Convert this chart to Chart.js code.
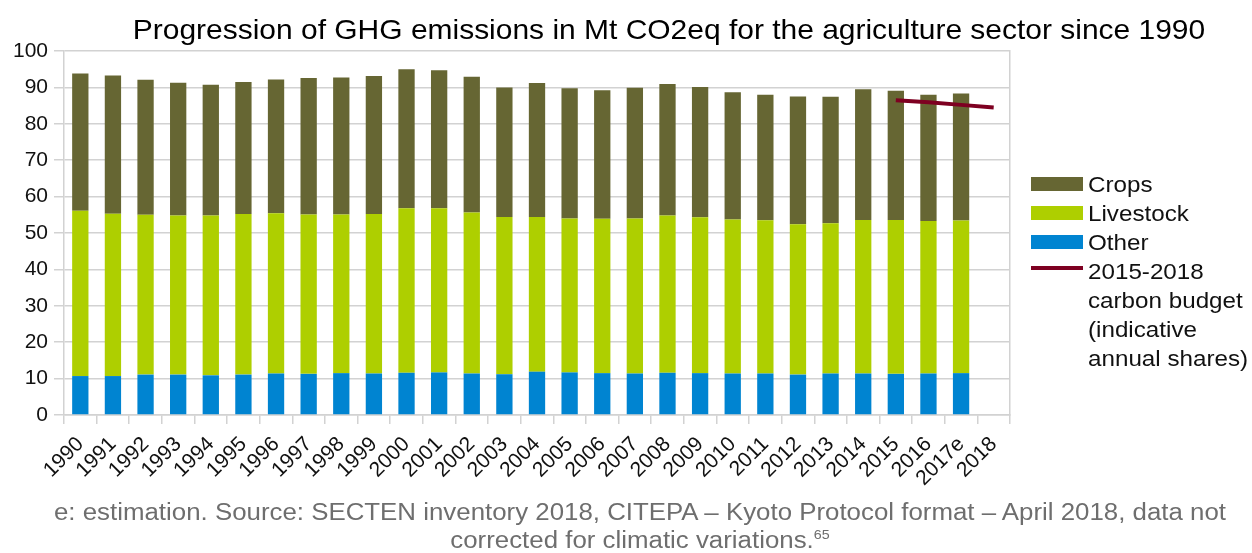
<!DOCTYPE html>
<html>
<head>
<meta charset="utf-8">
<script src="https://cdn.jsdelivr.net/npm/chart.js@4/dist/chart.umd.min.js"></script>
<style>
    html, body { margin: 0; padding: 0; background: #fff; }
    #wrap { position: relative; width: 1252px; height: 553px; font-family: "Liberation Sans", Arial, sans-serif; overflow: hidden; }
    #chart { position: absolute; left: 0; top: 0; }
    .title { position: absolute; left: 69px; width: 1200px; top: 16px; text-align: center; font-size: 28px; line-height: 28px; color: #000; white-space: nowrap; transform: scaleX(1.07); transform-origin: 600px 0; }
    .legend { position: absolute; left: 1031px; top: 170px; font-size: 22px; line-height: 29px; color: #111; }
    .legend .row { position: relative; height: 29px; }
    .legend .key { position: absolute; left: 0; width: 52px; }
    .legend .txt { position: absolute; left: 57px; white-space: nowrap; transform: scaleX(1.1); transform-origin: 0 0; }
    .note { position: absolute; left: 0; width: 1280px; top: 499px; text-align: center; font-size: 23.5px; line-height: 27.5px; color: #6e6e6e; transform: scaleX(1.1); transform-origin: 640px 0; }
    .note sup { font-size: 13px; vertical-align: 9px; line-height: 0; }
</style>
</head>
<body>
<div id="wrap">
    <canvas id="chart" width="1252" height="553"></canvas>
    <div class="title">Progression of GHG emissions in Mt CO2eq for the agriculture sector since 1990</div>
    <div class="legend" id="legend"></div>
    <div class="note">e: estimation. Source: SECTEN inventory 2018, CITEPA – Kyoto Protocol format – April 2018, data not<br>corrected for climatic variations.<sup>65</sup></div>
</div>
<script>
    // Categories (2018 has no bar, only the budget line)
    const years = ["1990", "1991", "1992", "1993", "1994", "1995", "1996", "1997", "1998", "1999",
        "2000", "2001", "2002", "2003", "2004", "2005", "2006", "2007", "2008", "2009",
        "2010", "2011", "2012", "2013", "2014", "2015", "2016", "2017e", "2018"];

    // Mt CO2eq
    const other = [10.7, 10.7, 11.1, 11.1, 10.9, 11.1, 11.4, 11.3, 11.5, 11.4,
        11.6, 11.7, 11.4, 11.2, 11.9, 11.7, 11.5, 11.4, 11.6, 11.5,
        11.4, 11.4, 11.1, 11.4, 11.4, 11.3, 11.4, 11.5, null];
    const livestock = [45.4, 44.6, 43.9, 43.7, 43.9, 44.1, 44.0, 43.8, 43.6, 43.8,
        45.2, 45.1, 44.2, 43.2, 42.5, 42.3, 42.4, 42.6, 43.2, 42.8,
        42.3, 42.1, 41.3, 41.3, 42.2, 42.3, 41.9, 41.9, null];
    const crops = [37.7, 38.0, 37.1, 36.5, 35.9, 36.3, 36.8, 37.5, 37.6, 37.9,
        38.2, 37.9, 37.3, 35.6, 36.8, 35.8, 35.3, 35.9, 36.1, 35.8,
        35.0, 34.5, 35.1, 34.7, 35.9, 35.5, 34.7, 34.9, null];
    const budget = [null, null, null, null, null, null, null, null, null, null,
        null, null, null, null, null, null, null, null, null, null,
        null, null, null, null, null, 86.5, 85.9, 85.2, 84.5];

    const yTicks = [0, 10, 20, 30, 40, 50, 60, 70, 80, 90, 100];

    const colors = {
        crops: "#666633",
        livestock: "#aecf00",
        other: "#0084d1",
        budget: "#7e0021"
    };
    const gridColor = "#d2d2d2";
    const font = "'Liberation Sans', Arial, sans-serif";

    // legend (top to bottom, same order as the picture)
    const legendItems = [
        {label: "Crops", color: colors.crops, line: false},
        {label: "Livestock", color: colors.livestock, line: false},
        {label: "Other", color: colors.other, line: false},
        {label: ["2015-2018", "carbon budget", "(indicative", "annual shares)"], color: colors.budget, line: true}
    ];
    const legend = document.getElementById("legend");
    legendItems.forEach(function (item) {
        const lines = Array.isArray(item.label) ? item.label : [item.label];
        lines.forEach(function (text, i) {
            const row = document.createElement("div");
            row.className = "row";
            if (i === 0) {
                const key = document.createElement("span");
                key.className = "key";
                key.style.background = item.color;
                key.style.top = item.line ? "9px" : "7px";
                key.style.height = item.line ? "4px" : "14px";
                row.appendChild(key);
            }
            const txt = document.createElement("span");
            txt.className = "txt";
            txt.textContent = text;
            row.appendChild(txt);
            legend.appendChild(row);
        });
    });

    const ctx = document.getElementById("chart").getContext("2d");
    // eslint-disable-next-line no-new
    new Chart(ctx, {
        data: {
            labels: years,
            datasets: [
                {type: "bar", label: "Other", data: other, backgroundColor: colors.other, stack: "ghg", order: 2},
                {type: "bar", label: "Livestock", data: livestock, backgroundColor: colors.livestock, stack: "ghg", order: 2},
                {type: "bar", label: "Crops", data: crops, backgroundColor: colors.crops, stack: "ghg", order: 2},
                {
                    type: "line", label: "2015-2018 carbon budget", data: budget, stack: "budget", order: 1,
                    borderColor: colors.budget, borderWidth: 4, pointRadius: 0, fill: false, spanGaps: false
                }
            ]
        },
        options: {
            responsive: false,
            animation: false,
            events: [],
            layout: {padding: {left: 0, right: 242, top: 51, bottom: 0}},
            datasets: {bar: {barPercentage: 0.5, categoryPercentage: 1}},
            plugins: {
                legend: {display: false},
                title: {display: false},
                tooltip: {enabled: false}
            },
            scales: {
                x: {
                    stacked: true,
                    offset: true,
                    grid: {offset: true, drawOnChartArea: false, drawTicks: true, tickLength: 9, tickColor: gridColor, lineWidth: 1.5},
                    border: {display: true, color: gridColor, width: 1.5},
                    ticks: {
                        autoSkip: false, minRotation: 45, maxRotation: 45, padding: 8,
                        color: "#111", font: {family: font, size: 21}
                    },
                    afterFit: function (scale) {
                        scale.height = 138;
                    }
                },
                y: {
                    stacked: true,
                    min: 0,
                    max: 100,
                    afterBuildTicks: function (scale) {
                        scale.ticks = yTicks.map(function (v) {
                            return {value: v};
                        });
                    },
                    grid: {color: gridColor, lineWidth: 1.5, tickLength: 10},
                    border: {display: true, color: gridColor, width: 1.5},
                    ticks: {padding: 6, color: "#111", font: {family: font, size: 21}},
                    afterFit: function (scale) {
                        scale.width = 64;
                    }
                },
                y2: {
                    position: "right",
                    min: 0,
                    max: 100,
                    grid: {drawOnChartArea: false, drawTicks: false},
                    border: {display: true, color: gridColor, width: 1.5},
                    ticks: {display: false},
                    afterFit: function (scale) {
                        scale.width = 0;
                    }
                }
            }
        }
    });
</script>
</body>
</html>
